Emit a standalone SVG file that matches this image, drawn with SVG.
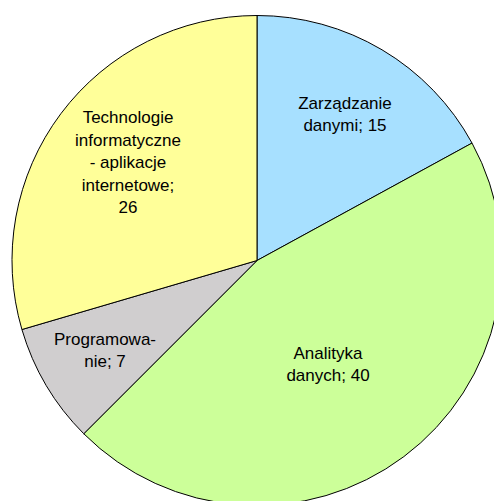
<svg xmlns="http://www.w3.org/2000/svg" width="494" height="501" viewBox="0 0 494 501">
<style>
.s{stroke:#000;stroke-width:1;stroke-linejoin:round}
.t{font-family:"Liberation Sans",Arial,sans-serif;font-size:17px;fill:#000;text-anchor:middle}
</style>
<rect width="494" height="501" fill="#fff"/>
<g id="slice-zarzadzanie">
<path class="s" fill="#A7E0FF" d="M257,260.5 L257,15.5 A245,245 0 0 1 472.03,143.07 Z"/>
<text class="t" x="345" y="108.5">Zarządzanie</text>
<text class="t" x="345" y="130.5">danymi; 15</text>
</g>
<g id="slice-analityka">
<path class="s" fill="#CCFF99" d="M257,260.5 L472.03,143.07 A245,245 0 0 1 83.76,433.74 Z"/>
<text class="t" x="328" y="358.5">Analityka</text>
<text class="t" x="328" y="380.5">danych; 40</text>
</g>
<g id="slice-programowanie">
<path class="s" fill="#D0CECF" d="M257,260.5 L83.76,433.74 A245,245 0 0 1 21.92,329.52 Z"/>
<text class="t" x="105" y="345">Programowa-</text>
<text class="t" x="105" y="367">nie; 7</text>
</g>
<g id="slice-technologie">
<path class="s" fill="#FFFF99" d="M257,260.5 L21.92,329.52 A245,245 0 0 1 257,15.5 Z"/>
<text class="t" x="128" y="123.3">Technologie</text>
<text class="t" x="128" y="145.7">informatyczne</text>
<text class="t" x="128" y="168.1">- aplikacje</text>
<text class="t" x="128" y="190.5">internetowe;</text>
<text class="t" x="128" y="212.9">26</text>
</g>
<g id="connectors"></g>
</svg>
